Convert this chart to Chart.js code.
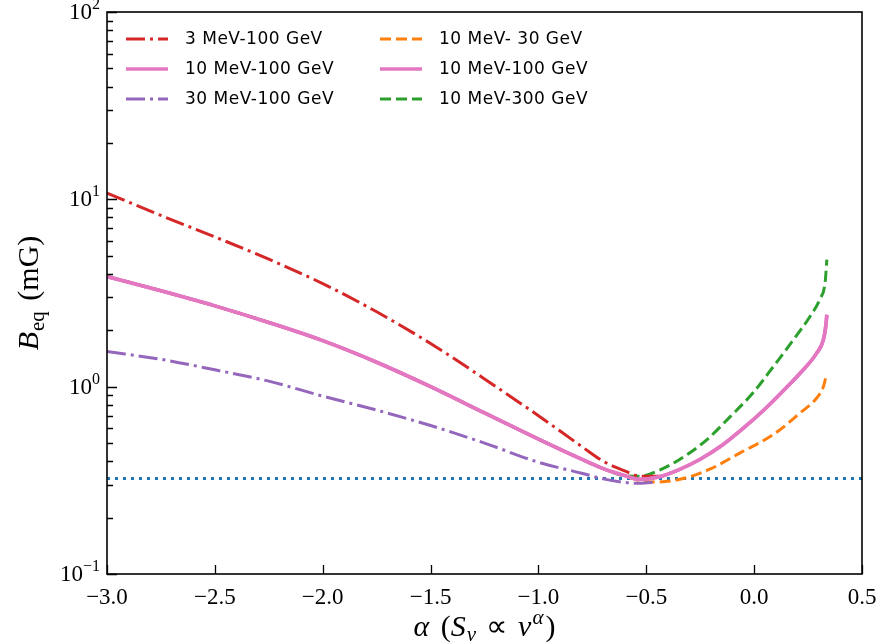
<!DOCTYPE html>
<html>
<head>
<meta charset="utf-8">
<script src="https://cdn.jsdelivr.net/npm/chart.js@4.4.0/dist/chart.umd.min.js"></script>
<style>
  html, body { margin: 0; padding: 0; background: #fff; }
</style>
</head>
<body>
<canvas id="chart" width="881" height="644"></canvas>
<script>
// spectral index alpha vs. equipartition field B_eq (mG)
const redAlpha = [-3.0, -2.75, -2.5, -2.25, -2.0, -1.75, -1.5, -1.25, -1.0, -0.8, -0.7, -0.6, -0.53, -0.42];
const redB     = [10.8, 8.2, 6.3, 4.79, 3.55, 2.51, 1.70, 1.10, 0.70, 0.48, 0.40, 0.355, 0.333, 0.332];

const pinkAlpha = [-3.0, -2.75, -2.5, -2.25, -2.0, -1.75, -1.5, -1.25, -1.0, -0.8, -0.7, -0.6, -0.53, -0.45, -0.35, -0.25, -0.15, -0.05, 0.05, 0.15, 0.213, 0.29, 0.321, 0.332, 0.337];
const pinkB     = [3.87, 3.25, 2.70, 2.20, 1.76, 1.35, 1.00, 0.724, 0.525, 0.41, 0.365, 0.335, 0.32, 0.328, 0.36, 0.41, 0.485, 0.60, 0.76, 0.99, 1.18, 1.51, 1.78, 2.1, 2.42];

const purpleAlpha = [-3.0, -2.75, -2.5, -2.25, -2.0, -1.75, -1.5, -1.25, -1.0, -0.8, -0.7, -0.6, -0.53, -0.45];
const purpleB     = [1.54, 1.40, 1.23, 1.07, 0.89, 0.75, 0.62, 0.50, 0.395, 0.345, 0.322, 0.308, 0.305, 0.31];

const orangeAlpha = [-3.0, -2.75, -2.5, -2.25, -2.0, -1.75, -1.5, -1.25, -1.0, -0.8, -0.7, -0.6, -0.53, -0.45, -0.376, -0.3, -0.2, -0.065, 0.089, 0.213, 0.29, 0.321, 0.333];
const orangeB     = [3.87, 3.25, 2.70, 2.20, 1.76, 1.35, 1.00, 0.724, 0.525, 0.41, 0.365, 0.335, 0.315, 0.31, 0.315, 0.33, 0.365, 0.443, 0.555, 0.724, 0.87, 1.0, 1.13];

const greenAlpha = [-3.0, -2.75, -2.5, -2.25, -2.0, -1.75, -1.5, -1.25, -1.0, -0.8, -0.7, -0.6, -0.53, -0.436, -0.344, -0.22, -0.112, -0.004, 0.089, 0.182, 0.259, 0.306, 0.329, 0.337];
const greenB     = [3.87, 3.25, 2.70, 2.20, 1.76, 1.35, 1.00, 0.724, 0.525, 0.41, 0.365, 0.335, 0.333, 0.36, 0.41, 0.52, 0.69, 0.93, 1.28, 1.78, 2.37, 2.95, 3.6, 4.76];

const limitAlpha = [-3.0, 0.5];
const limitB     = [0.323, 0.323];

const legendLabels = ["3 MeV-100 GeV", "10 MeV-100 GeV", "30 MeV-100 GeV", "10 MeV- 30 GeV", "10 MeV-100 GeV", "10 MeV-300 GeV"];

const xTicks = [-3.0, -2.5, -2.0, -1.5, -1.0, -0.5, 0.0, 0.5];
const xTickLabels = ["\u22123.0", "\u22122.5", "\u22122.0", "\u22121.5", "\u22121.0", "\u22120.5", "0.0", "0.5"];
const yDecades = [0.1, 1, 10, 100];
const yExponents = ["\u22121", "0", "1", "2"];

const serif = '"Liberation Serif", "Times New Roman", serif';

function pts(xs, ys) {
  return xs.map((x, i) => ({ x: x, y: ys[i] }));
}

function line(label, slot, xs, ys, color, width, dash) {
  return {
    label: label,
    legendSlot: slot,
    data: pts(xs, ys),
    borderColor: color,
    borderWidth: width,
    borderDash: dash,
    borderCapStyle: 'butt',
    pointRadius: 0,
    fill: false,
    cubicInterpolationMode: 'monotone'
  };
}

const dashDot = [19, 5, 3, 5];
const dashed = [11, 5];

// first dataset is drawn on top
const datasets = [
  line(legendLabels[1], 1, pinkAlpha, pinkB, '#e377c2', 3.6, []),
  line(legendLabels[4], 4, pinkAlpha, pinkB, '#e377c2', 3.6, []),
  line(legendLabels[0], 0, redAlpha, redB, '#d62728', 3, dashDot),
  line(legendLabels[2], 2, purpleAlpha, purpleB, '#9467bd', 3, dashDot),
  line(legendLabels[3], 3, orangeAlpha, orangeB, '#ff7f0e', 3, dashed),
  line(legendLabels[5], 5, greenAlpha, greenB, '#2ca02c', 3, dashed),
  line(null, -1, limitAlpha, limitB, '#1f77b4', 3, [3, 5])
];

// draw a run of text pieces (italic, sub/superscripts) starting at x
function drawRich(ctx, parts, x, y, align) {
  let total = 0;
  parts.forEach(p => { ctx.font = p.font; p.w = ctx.measureText(p.t).width + (p.gap || 0); total += p.w; });
  let cx = align === 'center' ? x - total / 2 : (align === 'right' ? x - total : x);
  parts.forEach(p => {
    ctx.font = p.font;
    ctx.fillText(p.t, cx, y + (p.dy || 0));
    cx += p.w;
  });
}

const frame = {
  id: 'frame',
  afterDatasetsDraw(chart) {
    const { ctx, chartArea: a, scales } = chart;
    const x = scales.x, y = scales.y;
    ctx.save();
    ctx.fillStyle = '#000';
    ctx.strokeStyle = '#000';

    // ticks (inward)
    ctx.lineWidth = 1.3;
    ctx.setLineDash([]);
    ctx.beginPath();
    xTicks.forEach(v => {
      const px = Math.round(x.getPixelForValue(v)) + 0.5;
      ctx.moveTo(px, a.bottom);
      ctx.lineTo(px, a.bottom - 9);
    });
    yDecades.forEach((d, i) => {
      const py = Math.round(y.getPixelForValue(d)) + 0.5;
      ctx.moveTo(a.left, py);
      ctx.lineTo(a.left + 10, py);
      if (i < yDecades.length - 1) {
        for (let m = 2; m <= 9; m++) {
          const q = Math.round(y.getPixelForValue(d * m)) + 0.5;
          ctx.moveTo(a.left, q);
          ctx.lineTo(a.left + 6, q);
        }
      }
    });
    ctx.stroke();

    // axes box
    ctx.lineWidth = 1.6;
    ctx.strokeRect(a.left, a.top, a.right - a.left, a.bottom - a.top);

    // x tick labels
    ctx.font = '23px ' + serif;
    ctx.textAlign = 'center';
    ctx.textBaseline = 'alphabetic';
    xTicks.forEach((v, i) => {
      ctx.fillText(xTickLabels[i], x.getPixelForValue(v), a.bottom + 30);
    });

    // y tick labels 10^n
    ctx.textAlign = 'left';
    yDecades.forEach((d, i) => {
      const py = y.getPixelForValue(d);
      drawRich(ctx, [
        { t: '10', font: '23px ' + serif, dy: 7 },
        { t: yExponents[i], font: '16px ' + serif, dy: -3 }
      ], a.left - 7, py, 'right');
    });

    // axis titles
    drawRich(ctx, [
      { t: '\u03b1', font: 'italic 30px ' + serif, gap: 4 },
      { t: ' (', font: '30px ' + serif },
      { t: 'S', font: 'italic 30px ' + serif, gap: 1 },
      { t: '\u03bd', font: 'italic 21px ' + serif, dy: 5, gap: 2 },
      { t: ' \u221d ', font: '30px ' + serif, gap: 4 },
      { t: '\u03bd', font: 'italic 30px ' + serif, gap: 1 },
      { t: '\u03b1', font: 'italic 21px ' + serif, dy: -12, gap: 2 },
      { t: ')', font: '30px ' + serif }
    ], (a.left + a.right) / 2, 636, 'center');

    ctx.save();
    ctx.translate(38, (a.top + a.bottom) / 2);
    ctx.rotate(-Math.PI / 2);
    drawRich(ctx, [
      { t: 'B', font: 'italic 30px ' + serif, gap: 1 },
      { t: 'eq', font: '21px ' + serif, dy: 6, gap: 3 },
      { t: ' (mG)', font: '30px ' + serif }
    ], 0, 0, 'center');
    ctx.restore();

    // legend, two columns filled top to bottom
    ctx.font = '17px "DejaVu Sans", sans-serif';
    if ('letterSpacing' in ctx) ctx.letterSpacing = '0.5px';
    ctx.textBaseline = 'middle';
    ctx.textAlign = 'left';
    chart.data.datasets.forEach(ds => {
      if (ds.legendSlot < 0) return;
      const col = Math.floor(ds.legendSlot / 3), row = ds.legendSlot % 3;
      const lx = a.left + 19 + col * 254;
      const ly = a.top + 27 + row * 30;
      ctx.strokeStyle = ds.borderColor;
      ctx.lineWidth = ds.borderWidth;
      ctx.setLineDash(ds.borderDash);
      ctx.beginPath();
      ctx.moveTo(lx, ly);
      ctx.lineTo(lx + 42, ly);
      ctx.stroke();
      ctx.fillStyle = '#000';
      ctx.fillText(ds.label, lx + 59, ly + 1);
    });
    ctx.restore();
  }
};

new Chart(document.getElementById('chart'), {
  type: 'line',
  data: { datasets: datasets },
  options: {
    responsive: false,
    animation: false,
    layout: { padding: { left: 107, right: 19, top: 12, bottom: 70 } },
    scales: {
      x: { type: 'linear', min: -3.0, max: 0.5, display: false },
      y: { type: 'logarithmic', min: 0.1, max: 100, display: false }
    },
    plugins: {
      legend: { display: false },
      tooltip: { enabled: false }
    }
  },
  plugins: [frame]
});
</script>
</body>
</html>
